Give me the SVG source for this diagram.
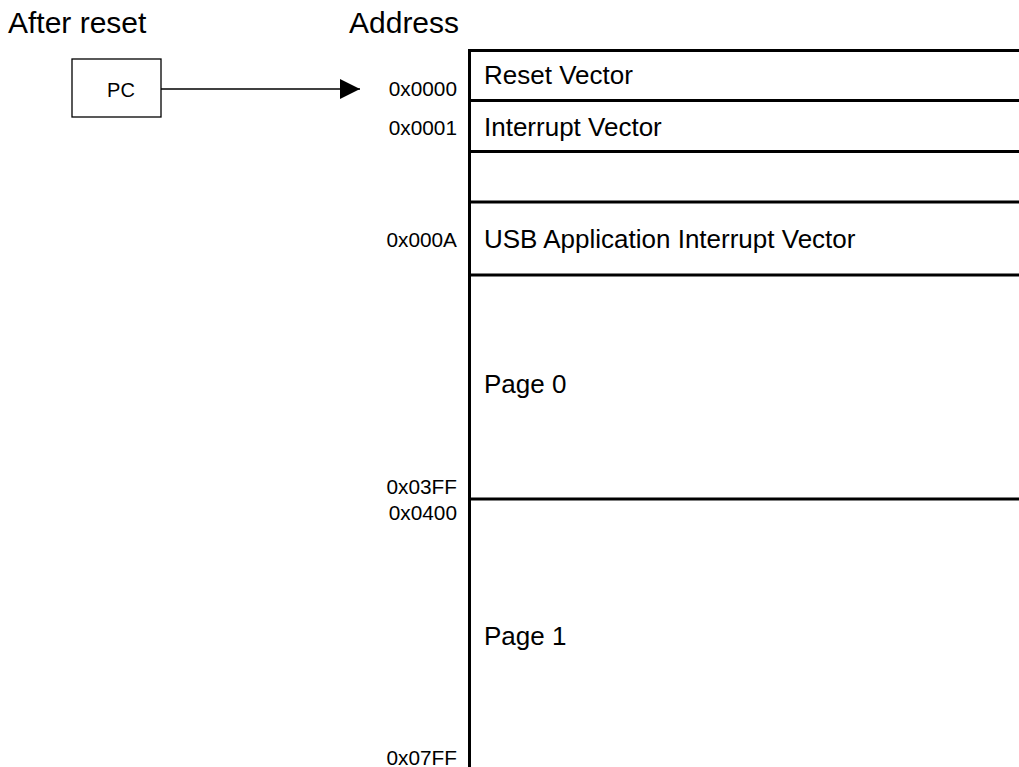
<svg xmlns="http://www.w3.org/2000/svg" width="1019" height="767" viewBox="0 0 1019 767">
<style>
text{font-family:"Liberation Sans",Arial,sans-serif;fill:#000}
.h{font-size:30px}
.c{font-size:26px}
.a{font-size:20.8px;text-anchor:end}
.pc{font-size:20px;text-anchor:middle}
.ln{stroke:#000;stroke-width:3;fill:none}
</style>
<defs>
<marker id="ah" markerWidth="20" markerHeight="20" refX="20" refY="10" orient="auto" markerUnits="userSpaceOnUse">
<path d="M0,0 L20,10 L0,20 Z" fill="#000"/>
</marker>
</defs>
<rect width="1019" height="767" fill="#fff"/>
<g id="headings">
<text class="h" x="8" y="33">After reset</text>
<text class="h" x="349" y="33">Address</text>
</g>
<g id="pc">
<rect x="72" y="59" width="89" height="58" fill="#fff" stroke="#000" stroke-width="1.3"/>
<text class="pc" x="121" y="97">PC</text>
</g>
<g id="connectors">
<line x1="161" y1="89" x2="360" y2="89" stroke="#000" stroke-width="1.5" marker-end="url(#ah)"/>
</g>
<g id="memory">
<line class="ln" x1="469.5" y1="49" x2="469.5" y2="767"/>
<line class="ln" x1="468" y1="50.5" x2="1019" y2="50.5"/>
<line class="ln" x1="468" y1="100.5" x2="1019" y2="100.5"/>
<line class="ln" x1="468" y1="151.5" x2="1019" y2="151.5"/>
<line class="ln" x1="468" y1="202" x2="1019" y2="202"/>
<line class="ln" x1="468" y1="275" x2="1019" y2="275"/>
<line class="ln" x1="468" y1="499" x2="1019" y2="499"/>
</g>
<g id="cells">
<text class="c" x="484" y="84">Reset Vector</text>
<text class="c" x="484" y="136">Interrupt Vector</text>
<text class="c" x="484" y="248">USB Application Interrupt Vector</text>
<text class="c" x="484" y="393">Page 0</text>
<text class="c" x="484" y="645">Page 1</text>
</g>
<g id="addresses">
<text class="a" x="457" y="96">0x0000</text>
<text class="a" x="457" y="135">0x0001</text>
<text class="a" x="457" y="247">0x000A</text>
<text class="a" x="457" y="494">0x03FF</text>
<text class="a" x="457" y="520">0x0400</text>
<text class="a" x="457" y="765">0x07FF</text>
</g>
</svg>
